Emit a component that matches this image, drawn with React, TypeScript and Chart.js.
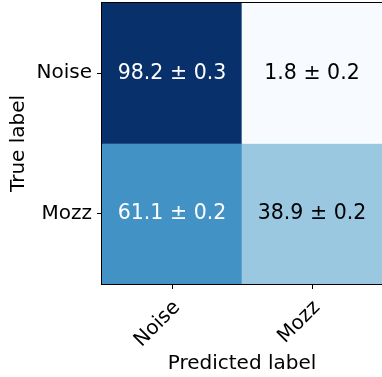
import { useEffect, useRef } from "react";
import { Chart, registerables } from "chart.js";

Chart.register(...registerables);

const predictedLabels = ["Noise", "Mozz"];
const trueLabels = ["Noise", "Mozz"];
const meanRow0 = [98.2, 1.8];
const meanRow1 = [61.1, 38.9];
const stdRow0 = [0.3, 0.2];
const stdRow1 = [0.2, 0.2];
const meanValues = [meanRow0, meanRow1];
const stdValues = [stdRow0, stdRow1];
const cellColorsRow0 = ["#08306b", "#f7fbff"];
const cellColorsRow1 = ["#4292c6", "#9ac8e0"];
const textColorsRow0 = ["#ffffff", "#000000"];
const textColorsRow1 = ["#ffffff", "#000000"];
const cellColors = [cellColorsRow0, cellColorsRow1];
const textColors = [textColorsRow0, textColorsRow1];

const FONT = "'DejaVu Sans', sans-serif";

const cellTextPlugin = {
  id: "cellText",
  afterDatasetsDraw(chart: any) {
    const ctx = chart.ctx;
    ctx.save();
    ctx.font = `20.5px ${FONT}`;
    ctx.textAlign = "center";
    ctx.textBaseline = "middle";
    chart.data.datasets.forEach((_ds: any, r: number) => {
      const meta = chart.getDatasetMeta(r);
      meta.data.forEach((el: any, c: number) => {
        const p = el.getCenterPoint();
        ctx.fillStyle = textColors[r][c];
        ctx.fillText(
          `${meanValues[r][c].toFixed(1)} ± ${stdValues[r][c].toFixed(1)}`,
          p.x,
          p.y
        );
      });
    });
    ctx.restore();
  },
};

const framePlugin = {
  id: "frame",
  afterDraw(chart: any) {
    const { ctx, chartArea } = chart;
    ctx.save();
    ctx.strokeStyle = "#000000";
    ctx.lineWidth = 1;
    ctx.strokeRect(
      chartArea.left - 0.5,
      chartArea.top - 0.5,
      chartArea.right - chartArea.left + 1,
      chartArea.bottom - chartArea.top + 1
    );
    ctx.restore();
  },
};

export default function App() {
  const ref = useRef<HTMLCanvasElement | null>(null);

  useEffect(() => {
    if (!ref.current) return;
    const datasets = trueLabels.map((lab, r) => ({
      label: lab,
      data: predictedLabels.map(() => [r - 0.5, r + 0.5]),
      backgroundColor: cellColors[r],
      borderWidth: 0,
      borderSkipped: false,
      barPercentage: 1,
      categoryPercentage: 1,
      grouped: false,
    }));
    const chart = new Chart(ref.current, {
      type: "bar",
      data: { labels: predictedLabels, datasets: datasets as any },
      plugins: [cellTextPlugin, framePlugin],
      options: {
        animation: false,
        responsive: false,
        maintainAspectRatio: false,
        layout: { padding: { top: 3, right: 0, left: 0, bottom: 0 } },
        plugins: {
          legend: { display: false },
          tooltip: { enabled: false },
        },
        scales: {
          x: {
            type: "category",
            offset: true,
            grid: {
              offset: false,
              drawOnChartArea: false,
              drawTicks: true,
              tickLength: 5,
              color: "#000000",
            },
            border: { display: true, color: "#000000" },
            ticks: {
              color: "#000000",
              font: { family: FONT, size: 20 },
              minRotation: 45,
              maxRotation: 45,
              padding: 7,
              labelOffset: 5,
            },
            title: {
              display: true,
              text: "Predicted label",
              color: "#000000",
              font: { family: FONT, size: 20 },
              padding: { top: 0, bottom: 1 },
            },
            afterFit(scale: any) {
              scale.height = 93;
              scale.paddingLeft = 0;
              scale.paddingRight = 0;
              scale.paddingTop = 0;
              scale.paddingBottom = 0;
            },
          },
          y: {
            type: "linear",
            reverse: true,
            min: -0.5,
            max: 1.5,
            afterBuildTicks(scale: any) {
              scale.ticks = [{ value: 0 }, { value: 1 }];
            },
            grid: {
              drawOnChartArea: false,
              drawTicks: true,
              tickLength: 5,
              color: "#000000",
            },
            border: { display: true, color: "#000000" },
            ticks: {
              color: "#000000",
              font: { family: FONT, size: 20 },
              padding: 5,
              callback: (v: any) => trueLabels[Math.round(Number(v))] ?? "",
            },
            title: {
              display: true,
              text: "True label",
              color: "#000000",
              font: { family: FONT, size: 20 },
              padding: { top: 7, bottom: 0 },
            },
            afterFit(scale: any) {
              scale.width = 102;
              scale.paddingLeft = 0;
              scale.paddingRight = 0;
              scale.paddingTop = 0;
              scale.paddingBottom = 0;
            },
          },
        },
      },
    });
    return () => chart.destroy();
  }, []);

  return (
    <div style={{ position: "fixed", left: 0, top: 0, width: 382, height: 377, background: "#ffffff" }}>
      <canvas ref={ref} width={382} height={377} style={{ display: "block" }} />
    </div>
  );
}
